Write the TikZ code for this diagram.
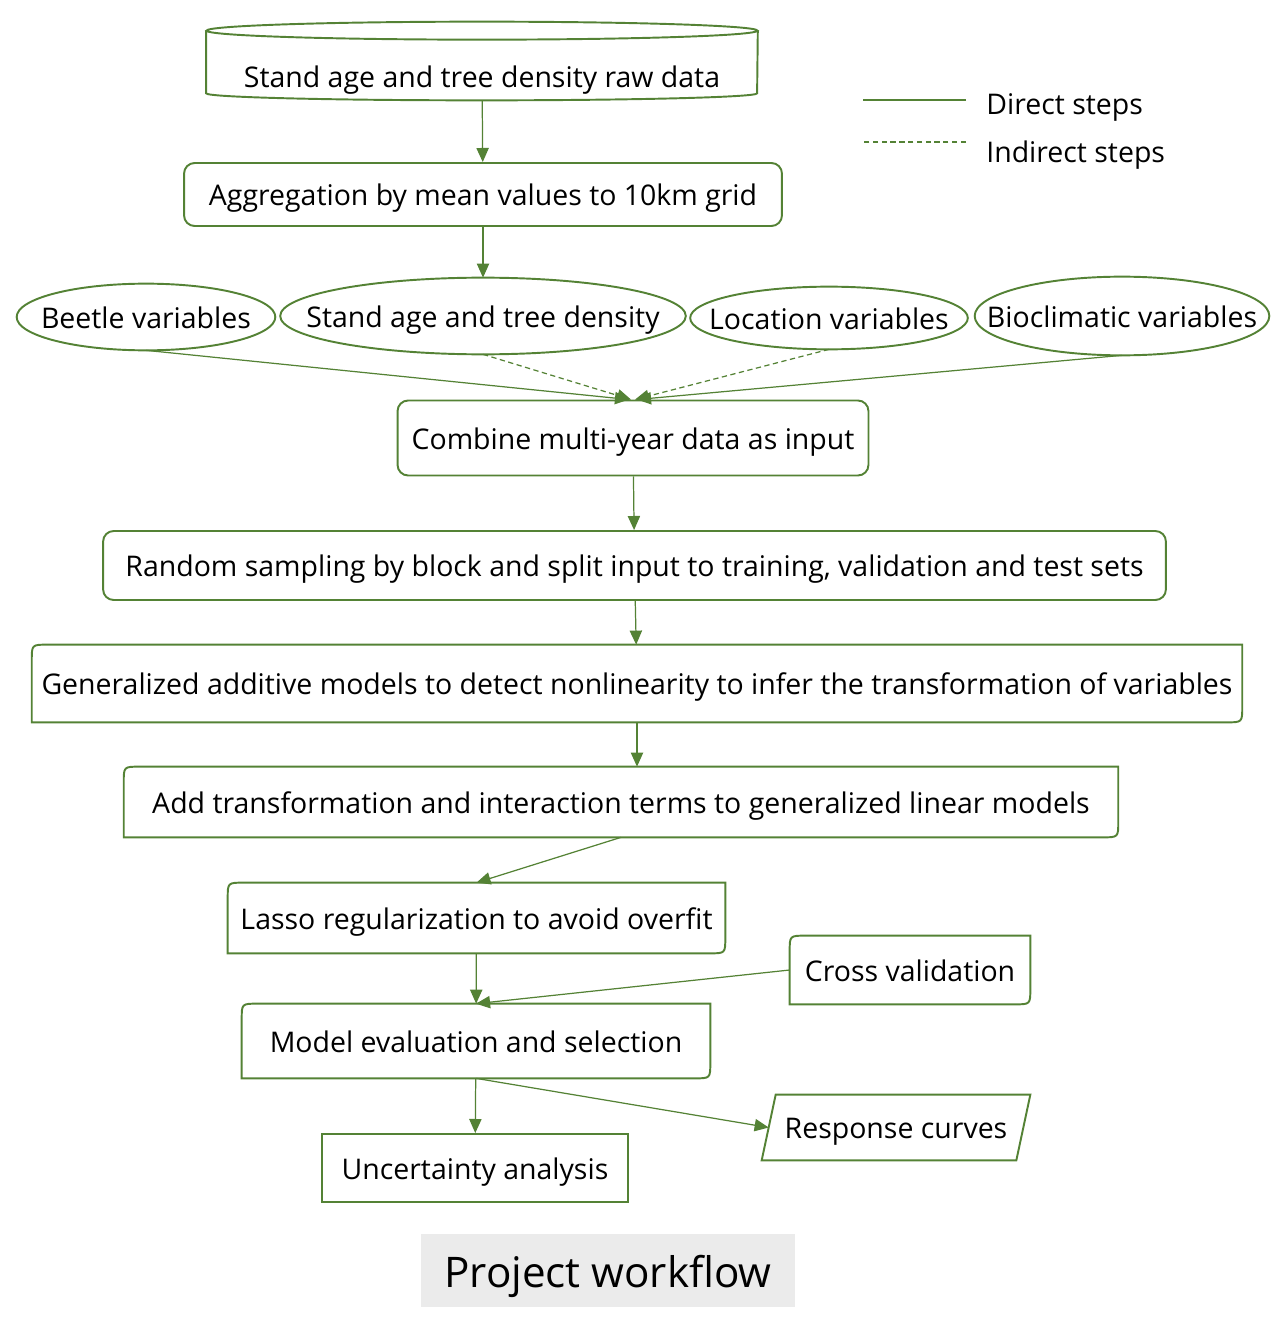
\documentclass[tikz,border=0pt]{standalone}
\usepackage{fontspec}
\setmainfont{Open Sans}
\usepackage{tikz}
\usetikzlibrary{arrows.meta}
\usetikzlibrary{calc}
\definecolor{flowgreen}{HTML}{548235}
\definecolor{titlegray}{HTML}{EBEBEB}
\tikzset{
    every node/.style={font=\fontsize{16.2}{20}\selectfont, inner sep=0pt, text height=13pt, text depth=0pt},
    frame/.style={draw=flowgreen, line width=1.1pt},
    roundbox/.style={frame, rounded corners=6pt},
    plainbox/.style={frame},
    link/.style={draw=flowgreen, line width=0.7pt, -{Triangle[length=8pt, width=7pt]}},
    weaklink/.style={link, dash pattern=on 3pt off 2pt},
    titlebox/.style={fill=titlegray, font=\fontsize{24}{28}\selectfont, text height=19pt},
}
\newcommand\diagframe[1]{%
    \draw [frame] (#1.south west) -- ([yshift=-9pt]#1.north west)
        .. controls (#1.north west) .. ([xshift=9pt]#1.north west)
        -- (#1.north east) -- ([yshift=9pt]#1.south east)
        .. controls (#1.south east) .. ([xshift=-9pt]#1.south east) -- cycle;}
\newcommand\varframe[1]{%
    \draw [frame] let \p1 = (#1.north east), \p2 = (#1.center) in
        (#1.center) ellipse [x radius=\x1-\x2, y radius=\y1-\y2];}
\newcommand\cylframe[2]{%
    \draw [frame] ([yshift=0.42cm]#1.north west) -- ([yshift=0.14cm]#1.south west)
        arc [start angle=180, end angle=360, x radius=#2, y radius=0.14cm]
        -- ([yshift=0.42cm]#1.north east);
    \draw [frame] ([yshift=0.42cm]#1.north) ellipse [x radius=#2, y radius=0.18cm];}

\begin{document}
\begin{tikzpicture}[x=0.02cm, y=-0.02cm]
    \useasboundingbox (0,0) rectangle (1282,1324);

    \node [minimum width=11.02cm, minimum height=0.96cm] (raw) at (482,76) {Stand age and tree density raw data};
    \cylframe{raw}{5.51cm}
    \node [roundbox, minimum width=11.96cm, minimum height=1.26cm] (agg) at (483,194.5) {Aggregation by mean values to 10km grid};

    \node [minimum width=5.16cm, minimum height=1.32cm] (beetle) at (146,317) {Beetle variables};
    \node [minimum width=8.1cm, minimum height=1.52cm] (stand) at (483,316) {Stand age and tree density};
    \node [minimum width=5.54cm, minimum height=1.24cm] (loc) at (829,318) {Location variables};
    \node [minimum width=5.88cm, minimum height=1.56cm] (bio) at (1122,316) {Bioclimatic variables};
    \varframe{beetle}
    \varframe{stand}
    \varframe{loc}
    \varframe{bio}

    \node [roundbox, minimum width=9.42cm, minimum height=1.5cm] (combine) at (633,438) {Combine multi-year data as input};
    \node [roundbox, minimum width=21.26cm, minimum height=1.38cm] (split) at (634.5,565.5) {Random sampling by block and split input to training, validation and test sets};
    \node [minimum width=24.2cm, minimum height=1.54cm] (gam) at (637,683.5) {Generalized additive models to detect nonlinearity to infer the transformation of variables};
    \diagframe{gam}
    \node [minimum width=19.88cm, minimum height=1.4cm] (glm) at (621,802) {Add transformation and interaction terms to generalized linear models};
    \diagframe{glm}
    \node [minimum width=9.94cm, minimum height=1.4cm] (lasso) at (476.5,918) {Lasso regularization to avoid overfit};
    \diagframe{lasso}
    \node [minimum width=4.8cm, minimum height=1.36cm] (cross) at (910,970) {Cross validation};
    \diagframe{cross}
    \node [minimum width=9.36cm, minimum height=1.48cm] (select) at (476,1041) {Model evaluation and selection};
    \diagframe{select}
    \node [plainbox, minimum width=6.12cm, minimum height=1.36cm] (uncert) at (475,1168) {Uncertainty analysis};
    \node [minimum width=5.08cm, minimum height=1.3cm] (resp) at (896,1127.5) {Response curves};
    \draw [frame] ([xshift=-0.14cm]resp.south west) -- ([xshift=0.14cm]resp.north west)
        -- ([xshift=0.14cm]resp.north east) -- ([xshift=-0.14cm]resp.south east) -- cycle;

    \draw [link] (raw) -- (agg);
    \draw [link] (agg) -- (stand);
    \draw [link] (beetle.south) -- ([xshift=-0.08cm]combine.north);
    \draw [weaklink] (stand.south) -- ([xshift=-0.04cm]combine.north);
    \draw [weaklink] (loc.south) -- ([xshift=0.04cm]combine.north);
    \draw [link] (bio.south) -- ([xshift=0.08cm]combine.north);
    \draw [link] (combine) -- (split);
    \draw [link] (split) -- (gam);
    \draw [link] (gam.south) -- (gam.south |- glm.north);
    \draw [link] (glm.south) -- (lasso.north);
    \draw [link] (lasso) -- (select);
    \draw [link] (cross.west) -- (select.north);
    \draw [link] (select) -- (uncert);
    \draw [link] (select.south) -- (resp.west);

    \node [anchor=west] (direct) at (986,103) {Direct steps};
    \node [anchor=west] (indirect) at (986,151) {Indirect steps};
    \draw [draw=flowgreen, line width=0.9pt] ([xshift=-0.4cm, yshift=0.06cm]direct.west) -- ++(-2.06cm,0);
    \draw [draw=flowgreen, line width=0.9pt, dash pattern=on 3pt off 2pt] ([xshift=-0.4cm, yshift=0.18cm]indirect.west) -- ++(-2.06cm,0);

    \node [titlebox, minimum width=7.48cm, minimum height=1.46cm] (title) at (608,1270.5) {Project workflow};
\end{tikzpicture}
\end{document}
